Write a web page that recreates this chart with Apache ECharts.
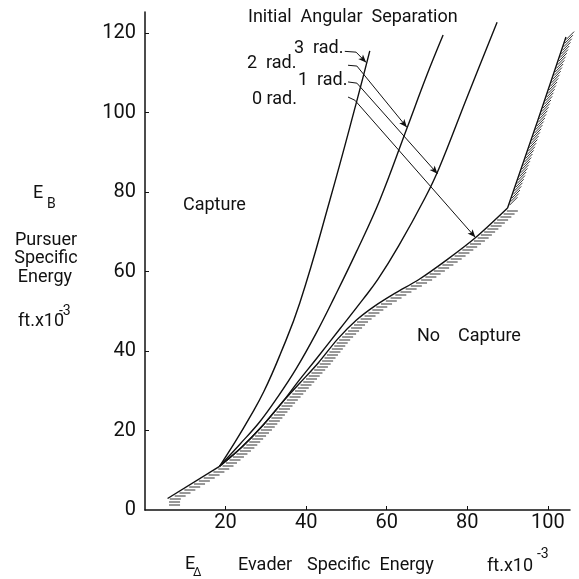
<!DOCTYPE html>
<html>
<head>
<meta charset="utf-8">
<script src="https://cdn.jsdelivr.net/npm/echarts/dist/echarts.min.js"></script>
<style>
  html, body { margin: 0; padding: 0; background: #fff; }
  #chart_con { width: 579px; height: 579px; }
</style>
</head>
<body>
<div id="chart_con"></div>
<script>
// E_A (evader) vs E_B (pursuer) specific energy, ft x 10^-3
// capture boundary, also the 0 rad. curve
const bound0 = [[5.6, 2.9], [18.5, 11], [24, 15.8], [29, 21], [34, 27], [38.5, 32], [43, 37],
    [47.8, 43], [52.5, 47.8], [57, 51.3], [62, 54.5], [68, 58], [75, 63], [82, 68.5], [90, 76],
    [97.5, 98], [104.5, 119]];
const rad1 = [[18.5, 11], [24, 15.8], [29, 21], [34, 27], [38, 32.3], [42.5, 38], [48.4, 45.6],
    [54.1, 53], [57.8, 58], [63, 66.5], [69.5, 78.5], [73, 86], [80, 104], [87.4, 122.7]];
const rad2 = [[18.5, 11], [23.5, 16.5], [28.5, 22.2], [33, 28.5], [37.5, 35.5], [42.5, 44.5],
    [47, 53.5], [52.5, 65], [58.3, 78], [65, 96], [70, 109.5], [74, 119.5]];
const rad3 = [[18.5, 11], [22.3, 17], [26, 23.3], [29.5, 29.8], [33.5, 39], [38.4, 52],
    [45.9, 78], [52.6, 103], [55.8, 115.5]];

// leader lines from the labels: short dash, then arrow to the curve
const dash3 = [[49.6, 115.4], [52.4, 115.2]];
const arrow3 = [[52.4, 115.2], [54.9, 112.6]];
const dash2 = [[50.4, 111.9], [52.6, 111.7]];
const arrow2 = [[52.6, 111.7], [65, 96.3]];
const dash1 = [[50.4, 107.7], [52.6, 107.4]];
const arrow1 = [[52.6, 107.4], [72.6, 84.6]];
const dash0 = [[50.4, 103.9], [52.1, 103.1]];
const arrow0 = [[52.1, 103.1], [82, 68.6]];

const xTicks = [20, 40, 60, 80, 100];
const yTicks = [20, 40, 60, 80, 100, 120];
const yLabels = [0, 20, 40, 60, 80, 100, 120];

const font = 'Roboto, "Liberation Sans", sans-serif';
const ink = '#111';

// text placed by its left edge (or centre) and vertical middle
function txt(x, y, text, size, align) {
    return {
        type: 'text',
        x: x,
        y: y,
        style: {
            text: text,
            font: size + 'px ' + font,
            fill: ink,
            textAlign: align || 'left',
            textVerticalAlign: 'middle'
        }
    };
}

function seg(a, b, arrow) {
    return [
        { coord: a, symbol: 'none' },
        { coord: b, symbol: arrow ? 'arrow' : 'none', symbolSize: [5, 8] }
    ];
}

function curve(name, data, smooth) {
    return {
        name: name,
        type: 'line',
        data: data,
        smooth: smooth,
        symbol: 'none',
        lineStyle: { color: ink, width: 1.4 },
        silent: true,
        z: 3
    };
}

const chart = echarts.init(document.getElementById('chart_con'));

const option = {
    backgroundColor: '#fff',
    animation: false,
    textStyle: { fontFamily: font },
    grid: { left: 145, right: 9, top: 12, bottom: 69 },
    xAxis: {
        type: 'value',
        min: 0,
        max: 105.5,
        interval: 20,
        splitLine: { show: false },
        axisLine: { lineStyle: { color: ink, width: 1.5 } },
        axisTick: { inside: true, length: 4, customValues: xTicks, lineStyle: { color: ink } },
        axisLabel: { customValues: xTicks, color: ink, fontSize: 20, margin: 3, fontFamily: font }
    },
    yAxis: {
        type: 'value',
        min: 0,
        max: 125.3,
        interval: 20,
        splitLine: { show: false },
        axisLine: { lineStyle: { color: ink, width: 1.5 } },
        axisTick: { inside: true, length: 4, customValues: yTicks, lineStyle: { color: ink } },
        axisLabel: { customValues: yLabels, color: ink, fontSize: 20, margin: 9, fontFamily: font }
    },
    series: [
        {
            name: 'hatch',
            type: 'custom',
            data: bound0,
            encode: { x: 0, y: 1 },
            silent: true,
            z: 2,
            renderItem: function (params, api) {
                const i = params.dataIndex;
                if (i >= bound0.length - 1) {
                    return;
                }
                const p0 = api.coord(bound0[i]);
                const p1 = api.coord(bound0[i + 1]);
                const steep = Math.abs((p1[1] - p0[1]) / (p1[0] - p0[0])) > 2;
                const gap = steep ? 3.6 : 3;
                const children = [];
                let y = Math.floor(p0[1] / gap) * gap;
                if (i === 0) {
                    y += 2 * gap;
                }
                for (; y > p1[1]; y -= gap) {
                    let t = (p0[1] - y) / (p0[1] - p1[1]);
                    if (t < 0) t = 0;
                    const x = p0[0] + t * (p1[0] - p0[0]);
                    const d = steep ? [8, -8] : [11, 0];
                    const x1 = x + (steep ? 1 : 1.5);
                    const y1 = y + (steep ? 0 : 1);
                    children.push({
                        type: 'line',
                        shape: { x1: x1, y1: y1, x2: x1 + d[0], y2: y1 + d[1] },
                        style: { stroke: '#333', lineWidth: 1 }
                    });
                }
                return { type: 'group', children: children };
            }
        },
        curve('0 rad. low', bound0.slice(0, 2), false),
        curve('0 rad.', bound0.slice(1, 15), 0.3),
        curve('0 rad. steep', bound0.slice(14), false),
        curve('1 rad.', rad1, 0.4),
        curve('2 rad.', rad2, 0.4),
        curve('3 rad.', rad3, 0.45),
        {
            name: 'leaders',
            type: 'line',
            data: [],
            silent: true,
            markLine: {
                silent: true,
                animation: false,
                symbolSize: [5, 8],
                label: { show: false },
                lineStyle: { color: ink, width: 1, type: 'solid' },
                emphasis: { disabled: true },
                data: [
                    seg(dash3[0], dash3[1], false),
                    seg(arrow3[0], arrow3[1], true),
                    seg(dash2[0], dash2[1], false),
                    seg(arrow2[0], arrow2[1], true),
                    seg(dash1[0], dash1[1], false),
                    seg(arrow1[0], arrow1[1], true),
                    seg(dash0[0], dash0[1], false),
                    seg(arrow0[0], arrow0[1], true)
                ]
            }
        }
    ],
    graphic: [
        txt(248, 17, 'Initial  Angular  Separation', 18),
        txt(294, 48, '3  rad.', 18),
        txt(247, 63, '2  rad.', 18),
        txt(298, 80, '1  rad.', 18),
        txt(252, 99, '0 rad.', 18),
        txt(183, 205, 'Capture', 18),
        txt(417, 336, 'No', 18),
        txt(458, 336, 'Capture', 18),
        // y axis title
        txt(33, 193, 'E', 18),
        txt(47, 204, 'B', 14),
        txt(46, 240, 'Pursuer', 18, 'center'),
        txt(46, 258, 'Specific', 18, 'center'),
        txt(45, 277, 'Energy', 18, 'center'),
        txt(18, 321, 'ft.x10', 18),
        txt(59, 311, '-3', 14),
        // x axis title
        txt(185, 564, 'E', 18),
        txt(193, 573, 'Δ', 12),
        txt(238, 565, 'Evader', 18),
        txt(307, 565, 'Specific  Energy', 18),
        txt(487, 566, 'ft.x10', 18),
        txt(537, 554, '-3', 14)
    ]
};

chart.setOption(option);
window.addEventListener('resize', function () {
    chart.resize();
});
</script>
</body>
</html>
